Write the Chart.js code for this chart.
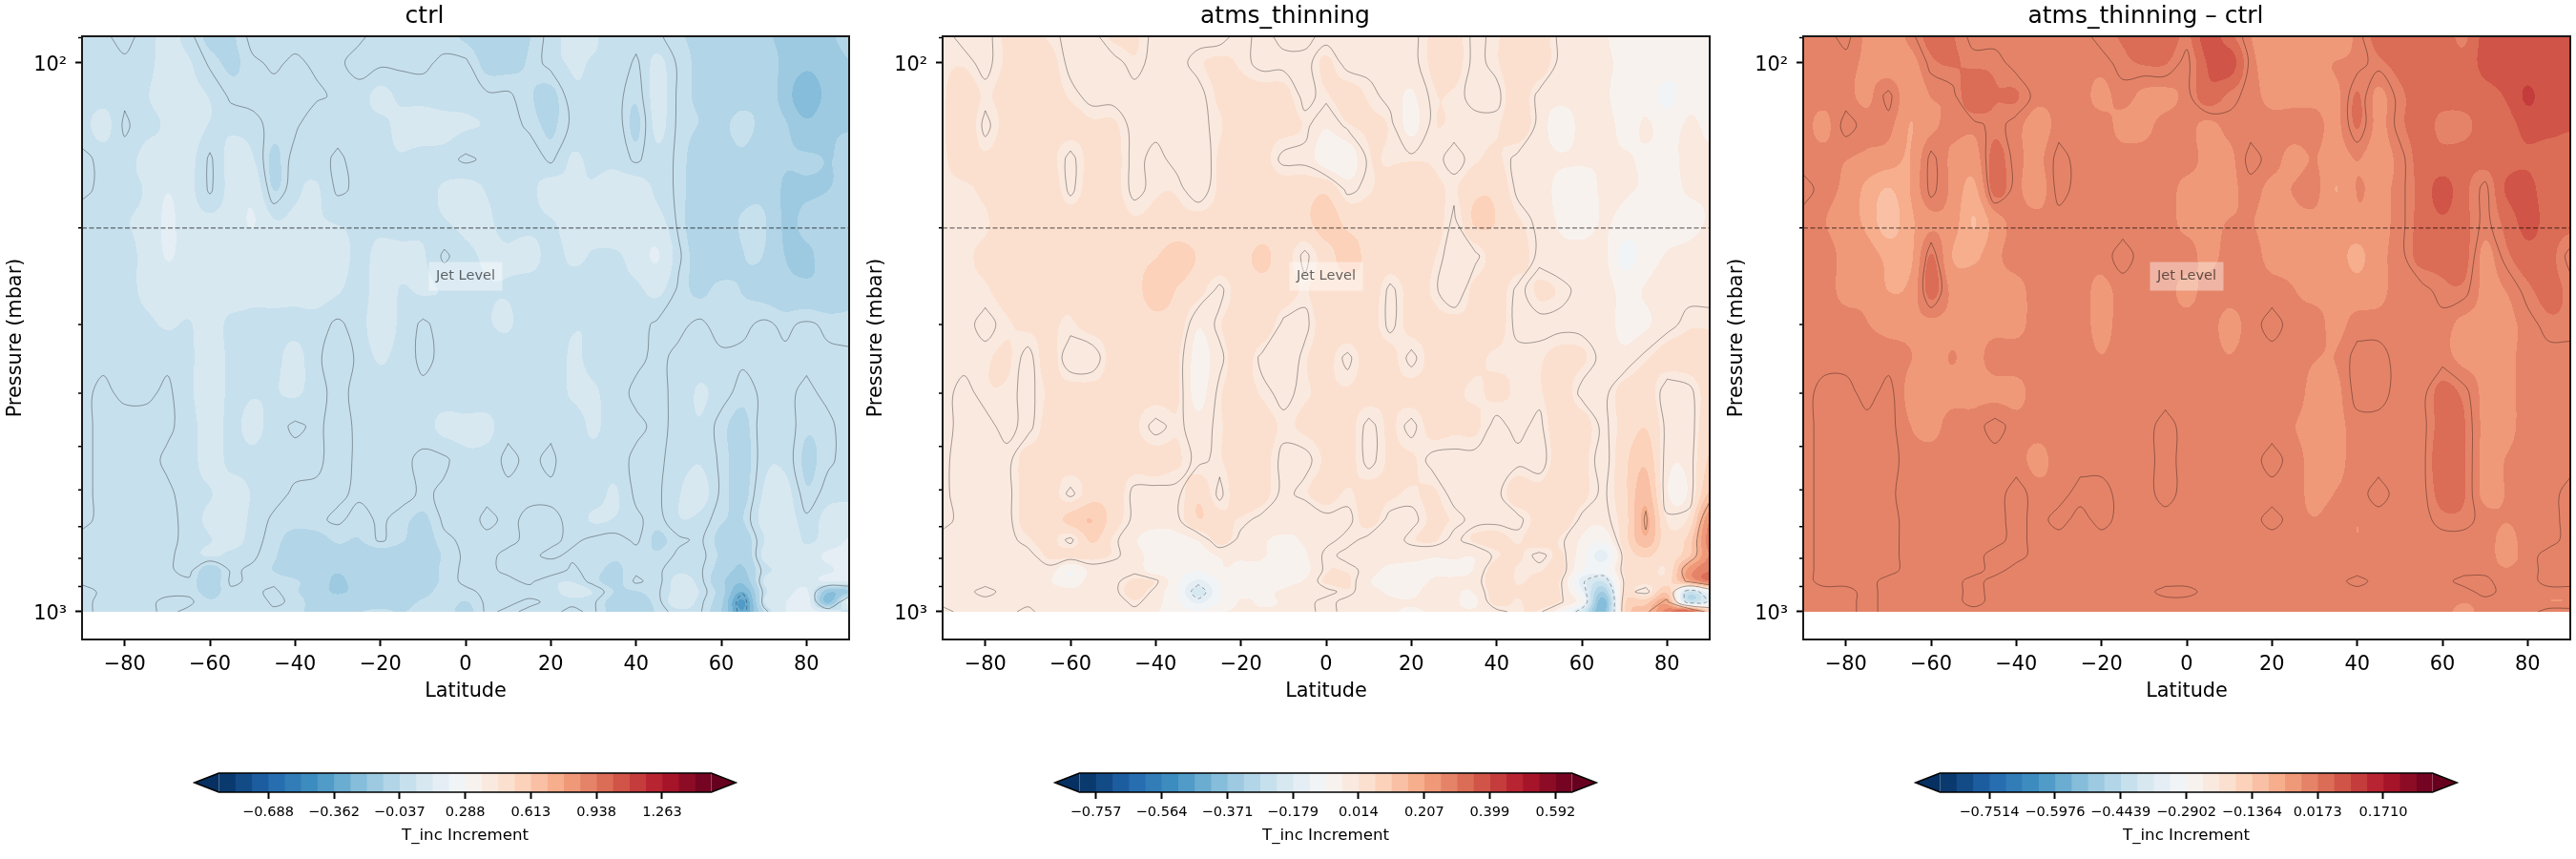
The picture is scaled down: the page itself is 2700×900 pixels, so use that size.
<!DOCTYPE html>
<html>
<head>
<meta charset="utf-8">
<title>T_inc zonal mean</title>
<script src="https://cdn.jsdelivr.net/npm/chart.js@4"></script>
<style>
  html, body { margin: 0; padding: 0; background: #fff; }
  body { position: relative; width: 2700px; height: 900px; overflow: hidden; }
  canvas { position: absolute; }
</style>
</head>
<body>
<canvas id="panel0" width="896" height="900" style="left:0;top:0"></canvas>
<canvas id="panel1" width="896" height="900" style="left:902px;top:0"></canvas>
<canvas id="panel2" width="896" height="900" style="left:1804px;top:0"></canvas>
<canvas id="bar0" width="620" height="100" style="left:180px;top:800px"></canvas>
<canvas id="bar1" width="620" height="100" style="left:1082px;top:800px"></canvas>
<canvas id="bar2" width="620" height="100" style="left:1984px;top:800px"></canvas>
<script>
const latitudes = [-90,-85,-80,-75,-70,-65,-60,-55,-50,-45,-40,-35,-30,-25,-20,-15,-10,-5,0,5,10,15,20,25,30,35,40,45,50,55,60,65,70,75,80,85,90];
const pressures = [89.5,100,115,130,150,170,195,225,260,300,345,400,460,530,610,680,740,790,840,880,920,960,1000];
const latTicks = [-80,-60,-40,-20,0,20,40,60,80];
const pressureTicks = [100,1000];
const pressureTickLabels = ["10²","10³"];
const minorPressures = [90,200,300,400,500,600,700,800,900];
const jetLevel = 200;

// T_inc increments in hundredths, one row per pressure level, one column per latitude
const ctrlValues = [
[1,1,-2,2,6,2,-6,-5,2,2,2,2,1,1,-2,-1,-2,-2,-5,-8,-7,-4,2,6,5,2,2,1,-3,-5,-6,-4,-10,-14,-15,-13,-10],
[1,2,1,3,6,5,-1,-5,-1,1,-1,1,1,-2,-1,-1,-1,1,1,-6,-6,-3,2,5,4,4,-1,6,-1,-5,-6,-7,-7,-14,-18,-15,-12],
[1,2,1,4,6,6,4,-1,-2,-2,-2,-1,1,2,6,3,2,1,2,1,1,-3,-6,3,3,2,-3,7,-1,-5,-7,-6,-6,-16,-26,-17,-12],
[2,7,-1,3,5,8,4,3,2,-2,-1,4,2,2,3,6,8,7,5,4,2,-1,-5,1,1,3,-5,6,-1,-4,-5,-2,-6,-11,-18,-13,-12],
[-1,1,2,6,6,7,-1,7,5,-5,2,2,-1,2,3,4,2,2,-1,1,1,3,-1,5,3,3,-1,3,-1,-8,-7,-5,-8,-11,-11,-12,-11],
[-1,1,3,5,12,7,-1,7,10,-4,3,5,-1,1,2,4,3,5,7,4,3,3,7,5,5,8,8,3,-1,-9,-8,-6,-6,-13,-13,-12,-10],
[2,2,4,6,14,8,6,8,13,5,6,5,4,3,3,2,3,4,6,5,3,3,4,6,6,12,9,7,-1,-9,-8,-3,-3,-13,-10,-8,-6],
[2,2,3,6,13,9,7,10,8,7,7,7,7,3,6,6,5,-1,3,5,5,6,3,5,4,3,8,13,1,-7,-9,-4,-4,-12,-13,-9,-6],
[2,2,2,6,8,7,5,8,6,6,6,7,5,2,7,4,5,4,3,4,4,2,3,3,3,3,3,6,-1,-5,-2,-4,-6,-9,-10,-10,-6],
[1,1,1,3,5,4,7,3,3,3,3,2,-1,2,8,3,-1,2,4,4,5,1,2,4,4,2,2,-1,-1,1,-2,-1,1,-1,1,-1,-2],
[1,1,2,2,1,3,8,3,3,3,6,1,-3,1,5,2,-1,1,2,2,1,1,1,5,3,2,1,-1,1,2,1,1,1,1,1,1,1],
[1,-1,1,1,-1,3,8,3,4,4,5,2,-2,2,2,2,1,1,1,1,1,1,1,5,5,2,-1,-1,1,5,2,-2,1,1,-1,1,1],
[1,-1,-2,-2,-1,2,7,3,6,2,-1,1,-2,1,1,1,2,6,6,6,1,1,1,2,5,2,1,-1,1,4,-2,-6,3,3,-3,-1,2],
[1,-1,-2,-2,1,2,7,3,3,2,2,1,-2,1,1,1,-1,-1,3,2,-1,1,-1,3,3,2,-1,-1,2,4,-1,-7,3,3,-5,-1,2],
[1,-1,-1,-1,-1,2,4,7,4,2,-1,-1,-1,1,1,2,-1,1,3,1,1,1,1,3,2,5,-1,-1,4,7,-1,-6,5,7,-3,2,3],
[1,-1,-1,-1,-1,1,6,8,3,-1,-2,-1,1,-2,1,-2,-5,1,2,-1,1,-1,-1,1,5,4,1,-2,4,3,-3,-4,7,9,1,7,8],
[-1,-1,-1,-1,-1,1,4,7,2,-2,-6,-6,-3,-4,1,-3,-7,-1,1,1,1,-1,-1,1,-1,-2,1,-5,-1,1,-6,-8,4,12,3,8,13],
[-1,-1,-1,-1,-1,2,5,3,1,-3,-8,-8,-6,-8,-8,-8,-8,-3,1,1,-1,-1,1,-1,-1,-3,-2,-3,1,2,-5,-10,6,9,8,14,14],
[-1,-1,-1,-1,-1,2,-8,1,-1,-4,-8,-9,-11,-8,-7,-8,-9,-2,1,1,-1,-1,-3,1,-2,-5,-1,-1,3,1,-7,-13,2,6,8,11,16],
[-1,-1,-1,-1,-1,-1,-8,1,-1,-1,-3,-8,-13,-9,-8,-8,-9,-2,1,1,1,-1,3,4,-2,-6,1,-2,7,2,-10,-18,5,8,10,13,13],
[2,-1,-1,-1,-1,-1,-6,-1,-1,1,-3,-8,-13,-9,-7,-7,-6,-1,-1,1,1,2,2,8,4,-4,-4,-1,7,4,-8,-28,2,8,14,-18,-14],
[1,-1,-1,-1,1,1,-3,-1,-3,1,-1,-7,-7,-6,-6,-6,-3,-1,-4,1,1,-1,1,1,1,-7,-6,-2,9,2,-10,-38,4,12,18,-22,16],
[1,-1,-1,-1,1,-1,-1,-1,-2,-1,-2,-6,-5,-4,-3,-4,-2,-1,-6,1,-1,1,1,-1,1,-7,-7,-3,3,1,-12,-36,-3,12,15,10,2]
];

const thinningValues = [
[1,-1,-1,2,3,1,-1,-1,2,2,-1,-1,-1,-1,1,-1,1,1,-1,-1,-1,-1,-1,2,3,-1,1,4,4,-1,-1,-2,-8,-5,-4,-6,-5],
[1,1,-1,2,4,3,-1,-1,-1,1,-1,-1,1,2,1,-1,-1,-1,2,-1,-1,-1,-1,2,3,-1,1,5,4,-1,-2,-2,-5,-5,-5,-8,-6],
[1,4,1,3,2,3,1,-1,-1,-1,-1,-1,-1,2,3,3,3,-1,1,3,1,-1,-4,1,1,-1,-1,4,-1,-2,-2,-2,-7,-5,-10,-5,-5],
[1,5,-1,3,3,3,3,2,2,-1,-1,-1,-1,1,4,3,3,1,-3,1,2,1,-5,1,1,1,1,4,-1,-6,-2,-1,-5,-3,-5,-3,-4],
[1,3,2,4,4,3,-1,3,3,-1,1,-1,-3,2,4,3,-1,-1,-6,-7,1,1,1,1,-1,1,2,-1,-2,-3,-3,-3,-3,-4,-4,-3,-3],
[1,1,2,4,5,5,-1,4,3,-1,1,1,-2,2,4,4,4,4,5,-1,1,3,5,3,1,5,5,-1,-1,-5,-5,-3,-3,-4,-5,-3,-3],
[1,1,1,4,5,5,4,5,4,2,3,3,3,3,3,4,5,5,9,5,4,3,4,5,-1,7,6,2,-1,-4,-6,-3,-5,-7,-6,-5,-3],
[1,1,2,3,4,4,3,5,5,5,6,8,6,5,5,7,4,-1,4,8,5,4,5,2,-2,-1,4,4,-1,-2,-1,-2,-10,-6,-3,-2,-1],
[1,1,1,3,3,3,2,4,4,5,8,6,3,-1,4,5,4,1,5,4,5,-1,3,1,-3,3,4,-1,2,1,-1,-1,-5,-3,-1,-1,-1],
[1,1,-1,1,2,2,1,3,3,4,5,4,-3,1,5,5,-1,-1,4,5,4,-1,3,3,3,2,3,-1,-1,-1,-1,-1,-5,-4,-1,1,1],
[1,1,1,2,-1,3,-2,-2,3,4,5,2,-5,-1,4,-1,-3,1,3,-1,4,3,-1,3,3,2,1,1,1,3,2,-1,-2,1,3,3,4],
[1,-1,1,1,-1,2,3,3,3,3,3,2,-5,1,3,1,-1,1,2,2,3,2,3,3,2,1,2,1,1,4,-1,-1,3,4,-2,-1,3],
[1,-1,-1,1,-1,3,3,3,3,2,-1,1,-2,1,3,3,1,2,3,3,-1,2,-1,3,2,2,-1,1,-1,5,4,-1,3,6,-1,-2,5],
[1,-2,-1,-1,3,3,4,4,3,3,3,2,-1,1,4,3,-1,-1,2,3,-1,2,2,-1,-1,-1,-1,-1,-2,4,3,-2,5,10,-2,-2,7],
[1,-2,-1,-1,3,4,-1,4,4,-1,-1,-1,5,-1,5,3,-1,1,3,1,3,2,1,2,-1,-1,-1,4,3,6,3,-1,5,14,-3,-3,12],
[1,-1,-1,-1,3,3,8,11,4,-1,-2,-1,6,3,1,-1,-2,-3,-1,-1,3,-1,-1,2,1,-1,-1,-1,3,5,-1,-2,4,17,1,2,25],
[-1,-1,-1,-1,1,3,-1,7,1,-3,-5,-5,-3,3,-1,-3,-4,-3,-1,1,-1,-2,1,2,-1,2,3,1,4,1,-4,-7,4,15,3,8,28],
[-1,-1,-1,-1,-1,2,3,3,1,-2,-5,-6,-6,-3,-3,-3,-6,-4,1,-1,-1,-1,-2,-3,-3,-3,1,2,-1,2,-6,-15,2,7,3,10,26],
[-1,-1,-1,-1,-1,-1,-8,-2,-2,-1,-6,-6,-8,-4,-4,-5,-8,-5,1,1,-1,-5,-5,-4,-4,-3,4,1,1,3,-8,-10,2,4,2,22,30],
[-1,-1,-1,-1,-1,-3,-7,-1,-1,2,1,-7,-14,-8,-5,-5,-5,-3,2,2,-3,-6,-6,-3,-3,-2,5,1,3,1,-15,-22,1,3,4,18,30],
[-1,-1,1,-1,-1,-1,-2,-1,-1,3,-1,-8,-20,-9,-5,-4,-3,-1,-1,1,-2,-4,-5,-1,-3,-3,4,2,5,1,-12,-32,2,-2,10,-22,-10],
[-1,-1,-1,-1,-1,-3,-3,-2,-2,1,-2,-7,-14,-8,-3,-4,-3,-1,1,-1,-3,-3,-3,-2,-3,-4,3,1,4,1,-8,-40,5,9,18,-22,-15],
[1,-1,-1,-1,1,-2,-3,-3,-2,-1,-3,-6,-8,-4,-3,-3,-3,-1,1,-1,-3,-3,-4,-3,-3,-3,-1,1,1,-6,-20,-40,6,14,28,35,10]
];

const differenceValues = [
[-1,-1,1,-3,-5,-1,3,2,-1,-1,-1,-1,-1,-1,1,2,3,5,1,8,3,-2,-4,-4,-3,-6,-1,3,4,4,4,1,7,7,6,8,7],
[-1,-1,-1,-3,-5,-4,1,2,1,1,-1,-1,-1,-1,-1,1,2,2,-1,6,8,-1,-3,-3,-3,-2,-1,1,3,4,4,3,7,8,7,7,8],
[-1,-1,-1,-3,1,-5,-2,-1,5,2,2,-1,-1,-1,-3,-1,-3,-3,-1,4,1,-1,-3,-3,-3,-3,2,-3,1,3,3,3,4,6,10,7,7],
[-1,-3,1,-1,-1,-6,-3,-1,-1,1,-1,-4,-1,-1,-1,-3,-3,-1,-1,-3,-1,-1,-1,-1,-1,-3,2,-3,1,3,1,1,3,4,7,7,6],
[-1,-1,-2,-3,-4,-6,1,-3,-4,3,-1,-3,1,-1,-1,-1,-1,-1,-1,-3,-3,1,-1,-3,-2,-4,-2,-4,-1,3,3,3,3,4,5,3,3],
[1,-1,-3,-7,-10,-6,1,-3,-7,3,-1,-4,1,-1,-1,-1,-1,-1,-3,-3,-3,-1,-3,-2,-1,-6,-2,-3,-1,3,7,3,-1,6,7,3,3],
[-1,-2,-4,-7,-12,-7,-3,-4,-10,-4,-1,-1,-1,-1,-1,-1,-1,-1,-3,-3,-2,-2,-3,-3,-3,-4,-3,-3,-1,3,5,3,-1,3,7,4,3],
[-1,-1,-3,-4,-7,-7,2,-6,-7,-3,-1,-1,-1,-1,-1,1,-1,-1,-1,-3,-1,-1,-3,-3,-3,-4,-7,-3,-1,3,3,3,-3,1,4,3,-1],
[-1,-1,-3,-3,-6,-5,3,-3,-3,-3,-3,-1,-1,-1,-3,-1,-1,-1,-3,-1,-1,-1,-1,-2,-3,-3,-4,-3,-1,-1,1,1,-3,-2,1,3,1],
[-1,-1,-1,-2,-3,-3,-3,-3,-3,-3,-3,-1,-1,-1,-3,-1,-1,-1,-1,-1,-3,-1,1,-1,-1,-3,-1,-1,-1,-1,-1,-3,-3,-3,-1,1,1],
[-1,-1,-1,-1,-1,-2,-3,-2,-3,-1,-1,-1,-1,-1,-2,-1,-1,-1,-1,-1,-2,-1,-1,-1,-2,-2,1,1,-1,-1,-1,-3,-3,-3,-1,-1,-1],
[-1,1,1,-1,1,-3,-3,-3,-3,-3,-3,-1,-1,-1,-1,-1,-1,-1,-1,-1,-1,-1,-1,-1,-3,-3,1,1,-1,-1,3,1,-3,-3,-1,-1,-1],
[-1,1,1,1,1,-2,-3,-1,-1,1,-1,-1,-1,-1,-1,-1,-1,1,-1,-1,-1,-1,-1,-2,-3,-3,-1,-1,-1,-1,3,2,-3,-3,-1,-1,-1],
[-1,1,1,1,1,-1,-1,-1,-1,-1,-1,-3,-1,-1,-1,-1,-1,1,-1,-1,-1,-1,1,-1,-3,-3,-1,-1,-1,-1,4,2,-3,-2,-1,-1,-1],
[-1,1,1,1,1,-2,-1,-1,-1,-1,1,-1,-1,1,1,-1,-1,1,-1,-1,-1,-1,-1,-1,-3,-2,-1,1,-1,-1,3,2,-3,-2,-1,-1,1],
[-1,1,1,1,1,-1,-1,-1,-1,-1,1,-1,1,-1,1,-1,-1,-1,-1,-1,-1,-1,1,-1,-2,-1,-2,-1,-1,-1,1,1,-1,-2,-1,-1,1],
[-1,1,1,1,1,-1,-2,-1,-1,-1,1,-1,-1,-1,-1,-1,-1,-1,-1,-1,-1,-1,-1,-1,-1,-1,-2,-1,-1,-1,-1,-1,-1,-3,-1,-1,1],
[-1,1,1,1,1,-1,-1,-1,-1,1,1,-1,-1,-1,-1,-1,-1,-1,-1,-1,-1,-1,-1,-1,-1,-1,-1,-1,-1,-1,-1,-1,-1,-3,-1,1,1],
[-1,1,1,1,1,-1,-1,-1,-1,1,-1,-1,-1,-1,-1,-1,-1,-1,-1,-1,-1,-1,-1,-1,-1,-1,-1,-1,-1,-1,-1,-1,-1,-2,-1,1,1],
[-1,1,1,1,-1,-1,-1,-1,1,-1,-1,-1,-1,-1,-1,-1,-1,-1,-1,-1,-1,-1,-1,-1,-1,-1,1,-1,-1,-1,-1,1,1,-2,-1,1,1],
[-1,-1,-1,1,-1,-1,-1,-1,1,-1,-1,-1,-1,-1,-1,-1,-1,1,1,-1,-1,-1,-1,-1,-1,-1,-1,-1,-1,-1,-1,-1,1,-1,-1,-1,-1],
[-1,-1,-1,1,-1,-1,-1,-1,1,-1,-1,-1,-1,-1,-1,-1,-1,-1,-1,-1,-1,-1,-1,-1,-1,-1,-1,-1,-1,-1,-1,-2,-1,-1,-1,-2,-2],
[-1,-1,-1,1,-1,-1,-1,-1,-1,-1,-1,-1,-1,-1,-1,-1,-1,-1,-1,-1,-1,-1,-1,-1,-1,-1,-1,-1,-1,-1,-1,-3,-1,-1,-1,1,1]
];

const ctrlBarTicks = [-0.688,-0.362,-0.037,0.288,0.613,0.938,1.263];
const thinningBarTicks = [-0.757,-0.564,-0.371,-0.179,0.014,0.207,0.399,0.592];
const differenceBarTicks = [-0.7514,-0.5976,-0.4439,-0.2902,-0.1364,0.0173,0.1710];

const fontFamily = "'DejaVu Sans'";
const SEGMENTS = 30;

// RdBu_r anchors, sampled at the middle of each filled band
const rdBuR = [[5,48,97],[33,102,172],[67,147,195],[146,197,222],[209,229,240],[247,247,247],[253,219,199],[244,165,130],[214,96,77],[178,24,43],[103,0,31]];
const bandColors = [];
for (let i = 0; i < SEGMENTS; i++) {
  const t = (i + 0.5) / SEGMENTS * 10;
  const k = Math.floor(t), f = t - k;
  bandColors.push(rdBuR[k].map((c, n) => Math.round(c + (rdBuR[k + 1][n] - c) * f)));
}
const rgb = c => `rgb(${c[0]},${c[1]},${c[2]})`;

const panels = [
  { title: "ctrl", rows: ctrlValues, vmin: -0.9318, vmax: 1.5068, levels: [-30, 0], barTicks: ctrlBarTicks, barDigits: 3 },
  { title: "atms_thinning", rows: thinningValues, vmin: -0.8052, vmax: 0.6402, levels: [-16, 0, 16], barTicks: thinningBarTicks, barDigits: 3 },
  { title: "atms_thinning – ctrl", rows: differenceValues, vmin: -0.8667, vmax: 0.2863, levels: [0], barTicks: differenceBarTicks, barDigits: 4 }
];

panels.forEach(p => p.rows.forEach((r, i) => {
  if (r.length !== latitudes.length) throw new Error(p.title + " row " + i + " has " + r.length);
}));
const logP = pressures.map(p => Math.log10(p));

// marching squares over the value grid, chained into polylines separated by NaN points
function contourPoints(rows, level) {
  const segs = [];
  const edge = (i1, j1, i2, j2) => {
    const a = rows[i1][j1] - level, b = rows[i2][j2] - level;
    const t = a / (a - b);
    const lat = latitudes[j1] + (latitudes[j2] - latitudes[j1]) * t;
    const lp = logP[i1] + (logP[i2] - logP[i1]) * t;
    return { x: lat, y: Math.pow(10, lp), key: `${i1},${j1},${i2},${j2}` };
  };
  for (let i = 0; i < rows.length - 1; i++) {
    for (let j = 0; j < latitudes.length - 1; j++) {
      const hi = (r, c) => rows[r][c] >= level;
      const crossings = [];
      if (hi(i, j) !== hi(i, j + 1)) crossings.push(edge(i, j, i, j + 1));
      if (hi(i, j + 1) !== hi(i + 1, j + 1)) crossings.push(edge(i, j + 1, i + 1, j + 1));
      if (hi(i + 1, j) !== hi(i + 1, j + 1)) crossings.push(edge(i + 1, j, i + 1, j + 1));
      if (hi(i, j) !== hi(i + 1, j)) crossings.push(edge(i, j, i + 1, j));
      if (crossings.length === 2) segs.push([crossings[0], crossings[1]]);
      if (crossings.length === 4) {
        segs.push([crossings[0], crossings[3]]);
        segs.push([crossings[1], crossings[2]]);
      }
    }
  }
  const byKey = new Map();
  segs.forEach(s => s.forEach(pt => {
    if (!byKey.has(pt.key)) byKey.set(pt.key, []);
    byKey.get(pt.key).push(s);
  }));
  const used = new Set();
  const out = [];
  const walk = (seg, from) => {
    let cur = seg, pt = from;
    const line = [pt];
    while (cur && !used.has(cur)) {
      used.add(cur);
      const next = cur[0].key === pt.key ? cur[1] : cur[0];
      line.push(next);
      pt = next;
      cur = (byKey.get(pt.key) || []).find(s => !used.has(s));
    }
    return line;
  };
  // open ends first so each line is one run
  segs.forEach(s => s.forEach(pt => {
    if (!used.has(s) && byKey.get(pt.key).length === 1) {
      walk(s, pt).forEach(q => out.push({ x: q.x, y: q.y }));
      out.push({ x: NaN, y: NaN });
    }
  }));
  segs.forEach(s => {
    if (!used.has(s)) {
      walk(s, s[0]).forEach(q => out.push({ x: q.x, y: q.y }));
      out.push({ x: NaN, y: NaN });
    }
  });
  return out;
}

const cubic = (a, b, c, d, t) => b + 0.5 * t * (c - a + t * (2 * a - 5 * b + 4 * c - d + t * (3 * (b - c) + d - a)));

// smooth lookup between grid nodes, null outside the pressure range
function valueAt(rows, lat, lp) {
  if (lp > logP[logP.length - 1] || lp < logP[0]) return null;
  const cf = Math.min((lat + 90) / 5, latitudes.length - 1.0001);
  const c = Math.floor(cf), fc = cf - c;
  let r = 0;
  while (r < logP.length - 2 && logP[r + 1] < lp) r++;
  const fr = (lp - logP[r]) / (logP[r + 1] - logP[r]);
  const along = row => {
    const v = rows[Math.max(0, Math.min(rows.length - 1, row))];
    return cubic(v[Math.max(0, c - 1)], v[c], v[c + 1], v[Math.min(v.length - 1, c + 2)], fc);
  };
  return cubic(along(r - 1), along(r), along(r + 1), along(r + 2), fr) / 100;
}

// filled bands, jet label, minor ticks and frame
const fieldPlugin = {
  id: "field",
  beforeDatasetsDraw(chart, args, opts) {
    const { ctx, chartArea: a, scales } = chart;
    const p = opts.panel;
    const w = Math.round(a.right - a.left), h = Math.round(a.bottom - a.top);
    const img = ctx.createImageData(w, h);
    const lats = [], lps = [];
    for (let x = 0; x < w; x++) lats.push(scales.x.getValueForPixel(a.left + x + 0.5));
    for (let y = 0; y < h; y++) lps.push(Math.log10(scales.y.getValueForPixel(a.top + y + 0.5)));
    const step = (p.vmax - p.vmin) / SEGMENTS;
    for (let y = 0; y < h; y++) {
      for (let x = 0; x < w; x++) {
        const v = valueAt(p.rows, lats[x], lps[y]);
        if (v === null) continue;
        const band = Math.max(0, Math.min(SEGMENTS - 1, Math.floor((v - p.vmin) / step)));
        const c = bandColors[band], o = (y * w + x) * 4;
        img.data[o] = c[0]; img.data[o + 1] = c[1]; img.data[o + 2] = c[2]; img.data[o + 3] = 255;
      }
    }
    ctx.putImageData(img, Math.round(a.left), Math.round(a.top));
  },
  afterDraw(chart) {
    const { ctx, chartArea: a, scales } = chart;
    ctx.save();
    ctx.fillStyle = "rgba(255,255,255,0.4)";
    const cx = scales.x.getPixelForValue(0), cy = scales.y.getPixelForValue(245);
    ctx.fillRect(cx - 38.5, cy - 15, 77, 30);
    ctx.fillStyle = "rgba(0,0,0,0.6)";
    ctx.font = `14.58px ${fontFamily}`;
    ctx.textAlign = "center";
    ctx.textBaseline = "middle";
    ctx.fillText("Jet Level", cx, cy);
    ctx.strokeStyle = "#000";
    ctx.lineWidth = 1.5;
    ctx.beginPath();
    minorPressures.forEach(v => {
      const y = scales.y.getPixelForValue(v);
      ctx.moveTo(a.left - 4, y);
      ctx.lineTo(a.left, y);
    });
    ctx.stroke();
    ctx.strokeStyle = "#1a1a1a";
    ctx.lineWidth = 2;
    ctx.strokeRect(a.left, a.top, a.right - a.left, a.bottom - a.top);
    ctx.restore();
  }
};

panels.forEach((p, n) => {
  const lineSets = p.levels.map(level => ({
    data: contourPoints(p.rows, level),
    showLine: true,
    spanGaps: false,
    tension: 0.35,
    pointRadius: 0,
    borderWidth: 1,
    borderColor: "rgba(0,0,0,0.35)",
    borderDash: level < 0 ? [4, 3] : []
  }));
  lineSets.push({
    data: [{ x: -90, y: jetLevel }, { x: 90, y: jetLevel }],
    showLine: true,
    pointRadius: 0,
    borderWidth: 1.25,
    borderColor: "rgba(0,0,0,0.55)",
    borderDash: [5, 2.5]
  });
  new Chart(document.getElementById("panel" + n), {
    type: "scatter",
    data: { datasets: lineSets },
    plugins: [fieldPlugin],
    options: {
      responsive: false,
      animation: false,
      layout: { padding: { left: 0, right: 6, top: 0, bottom: 163 } },
      plugins: {
        legend: { display: false },
        tooltip: { enabled: false },
        field: { panel: p },
        title: {
          display: true,
          text: p.title,
          color: "#000",
          font: { family: fontFamily, size: 25, weight: "normal", lineHeight: 1.2 },
          padding: { top: 2.5, bottom: 5.5 }
        }
      },
      scales: {
        x: {
          type: "linear",
          min: -90,
          max: 90,
          afterBuildTicks: s => { s.ticks = latTicks.map(v => ({ value: v })); },
          afterFit: s => { s.height = 67; },
          border: { display: false },
          grid: { drawOnChartArea: false, tickLength: 7, tickColor: "#000", tickWidth: 2 },
          ticks: {
            color: "#000",
            padding: 7,
            maxRotation: 0,
            autoSkip: false,
            font: { family: fontFamily, size: 20.83 },
            callback: v => String(v).replace("-", "−")
          },
          title: {
            display: true,
            text: "Latitude",
            color: "#000",
            font: { family: fontFamily, size: 20.83 },
            padding: { top: 0, bottom: 0 }
          }
        },
        y: {
          type: "logarithmic",
          reverse: true,
          min: 89.5,
          max: 1124,
          bounds: "data",
          afterBuildTicks: s => { s.ticks = pressureTicks.map(v => ({ value: v })); },
          afterFit: s => { s.width = 86; },
          border: { display: false },
          grid: { drawOnChartArea: false, tickLength: 7, tickColor: "#000", tickWidth: 2 },
          ticks: {
            color: "#000",
            padding: 9,
            labelOffset: 3,
            autoSkip: false,
            font: { family: fontFamily, size: 20.83 },
            callback: v => pressureTickLabels[pressureTicks.indexOf(v)]
          },
          title: {
            display: true,
            text: "Pressure (mbar)",
            color: "#000",
            font: { family: fontFamily, size: 20.83 },
            padding: { top: 4, bottom: 0 }
          }
        }
      }
    }
  });

  // colour bar: one floating bar per band, triangles for the extensions
  const step = (p.vmax - p.vmin) / SEGMENTS;
  const barSets = bandColors.map((c, i) => ({
    data: [[p.vmin + i * step, p.vmin + (i + 1) * step]],
    backgroundColor: rgb(c),
    barPercentage: 1,
    categoryPercentage: 1,
    grouped: false,
    borderWidth: 0
  }));
  const extendPlugin = {
    id: "extend",
    afterDraw(chart) {
      const { ctx, chartArea: a } = chart;
      const mid = (a.top + a.bottom) / 2;
      const tip = 25.7;
      ctx.save();
      ctx.fillStyle = rgb(rdBuR[0]);
      ctx.beginPath();
      ctx.moveTo(a.left, a.top); ctx.lineTo(a.left - tip, mid); ctx.lineTo(a.left, a.bottom);
      ctx.closePath(); ctx.fill();
      ctx.fillStyle = rgb(rdBuR[10]);
      ctx.beginPath();
      ctx.moveTo(a.right, a.top); ctx.lineTo(a.right + tip, mid); ctx.lineTo(a.right, a.bottom);
      ctx.closePath(); ctx.fill();
      ctx.strokeStyle = "#000";
      ctx.lineWidth = 1.5;
      ctx.beginPath();
      ctx.moveTo(a.left, a.top); ctx.lineTo(a.right, a.top); ctx.lineTo(a.right + tip, mid);
      ctx.lineTo(a.right, a.bottom); ctx.lineTo(a.left, a.bottom); ctx.lineTo(a.left - tip, mid);
      ctx.closePath(); ctx.stroke();
      ctx.restore();
    }
  };
  new Chart(document.getElementById("bar" + n), {
    type: "bar",
    data: { labels: [""], datasets: barSets },
    plugins: [extendPlugin],
    options: {
      indexAxis: "y",
      responsive: false,
      animation: false,
      layout: { padding: { left: 49.4, right: 54.4, top: 10, bottom: 0 } },
      plugins: { legend: { display: false }, tooltip: { enabled: false } },
      scales: {
        y: { display: false },
        x: {
          type: "linear",
          min: p.vmin,
          max: p.vmax,
          afterBuildTicks: s => { s.ticks = p.barTicks.map(v => ({ value: v })); },
          afterFit: s => { s.height = 70; },
          border: { display: false },
          grid: { drawOnChartArea: false, tickLength: 7, tickColor: "#000", tickWidth: 2 },
          ticks: {
            color: "#000",
            padding: 5,
            maxRotation: 0,
            autoSkip: false,
            font: { family: fontFamily, size: 14.58 },
            callback: v => v.toFixed(p.barDigits).replace("-", "−")
          },
          title: {
            display: true,
            text: "T_inc Increment",
            color: "#000",
            font: { family: fontFamily, size: 16.67 },
            padding: { top: 0, bottom: 14 }
          }
        }
      }
    }
  });
});
</script>
</body>
</html>
